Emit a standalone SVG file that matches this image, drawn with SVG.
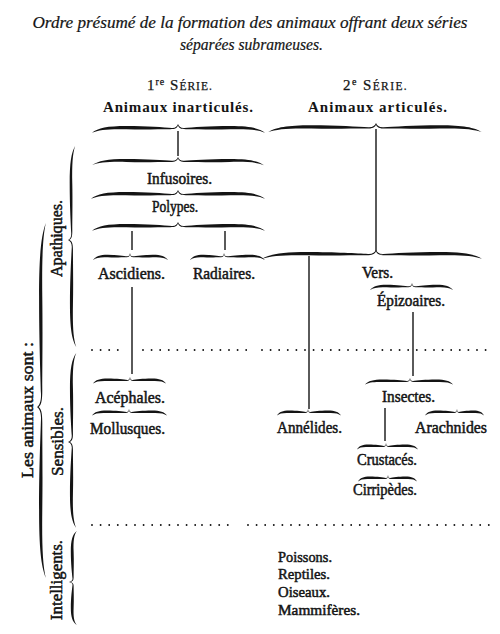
<svg xmlns="http://www.w3.org/2000/svg" xmlns:xlink="http://www.w3.org/1999/xlink" width="500" height="634" viewBox="0 0 500 634">
<style>
text{font-family:"Liberation Serif","DejaVu Serif",serif;fill:#141414}
.ti{font-size:16px;font-style:italic;stroke:#141414;stroke-width:0.2}
.hd{font-size:15px;font-weight:bold}
.sr{font-size:15px;stroke:#141414;stroke-width:0.25}
.lb{font-size:16px;stroke:#141414;stroke-width:0.5}
.sm{font-size:15px;stroke:#141414;stroke-width:0.5}
.br{fill:#141414}
.ln{stroke:#141414;stroke-width:1.4;fill:none}
.dt{stroke:#141414;stroke-width:1.9;stroke-linecap:round;stroke-dasharray:0 8.6;fill:none}
</style>
<defs>
<path id="hb" d="M-100,11 C-93,5 -82,2.6 -60,2.6 C-36,2.6 -16,4.4 -7,5 C-3,5.3 -1,3 0,0 L0,2 C-1,5 -3,6.6 -9,6.6 C-22,6.6 -40,7.2 -60,6.6 C-80,6.1 -92,7 -100,11 Z"/>
</defs>
<rect width="500" height="634" fill="#fff"/>

<g id="title">
<text class="ti" x="250" y="28" text-anchor="middle" textLength="435" lengthAdjust="spacingAndGlyphs">Ordre présumé de la formation des animaux offrant deux séries</text>
<text class="ti" x="251.5" y="50" text-anchor="middle" textLength="143" lengthAdjust="spacingAndGlyphs">séparées subrameuses.</text>
</g>

<g id="serie1">
<text class="sr" x="147" y="90" letter-spacing="1">1<tspan font-size="10" dy="-5">re</tspan><tspan dy="5"> S</tspan><tspan font-size="11.5">ÉRIE.</tspan></text>
<text class="hd" x="178" y="112" text-anchor="middle" textLength="150" lengthAdjust="spacing">Animaux inarticulés.</text>
<use href="#hb" class="br" transform="translate(178,124) scale(0.86,0.8)"/>
<use href="#hb" class="br" transform="translate(178,124) scale(-0.87,0.8)"/>
</g>

<g id="serie2">
<text class="sr" x="343" y="90" letter-spacing="1.4">2<tspan font-size="10" dy="-5">e</tspan><tspan dy="5"> S</tspan><tspan font-size="11.5">ÉRIE.</tspan></text>
<text class="hd" x="377.5" y="112" text-anchor="middle" textLength="139" lengthAdjust="spacing">Animaux articulés.</text>
<use href="#hb" class="br" transform="translate(376,123) scale(1.08,0.85)"/>
<use href="#hb" class="br" transform="translate(376,123) scale(-1.06,0.85)"/>
</g>

<g id="infusoires">
<use href="#hb" class="br" transform="translate(178,157) scale(0.86,0.75)"/>
<use href="#hb" class="br" transform="translate(178,157) scale(-0.86,0.75)"/>
<text class="lb" x="147" y="184" textLength="65" lengthAdjust="spacingAndGlyphs">Infusoires.</text>
</g>

<g id="polypes">
<use href="#hb" class="br" transform="translate(178,190) scale(0.87,0.8)"/>
<use href="#hb" class="br" transform="translate(178,190) scale(-0.87,0.8)"/>
<text class="lb" x="152" y="212" textLength="46" lengthAdjust="spacingAndGlyphs">Polypes.</text>
<use href="#hb" class="br" transform="translate(178,222) scale(0.86,0.8)"/>
<use href="#hb" class="br" transform="translate(178,222) scale(-0.87,0.8)"/>
</g>

<g id="ascidiens">
<use href="#hb" class="br" transform="translate(130,253) scale(0.37,0.65)"/>
<use href="#hb" class="br" transform="translate(130,253) scale(-0.38,0.65)"/>
<text class="lb" x="98" y="279" textLength="67" lengthAdjust="spacingAndGlyphs">Ascidiens.</text>
</g>

<g id="radiaires">
<use href="#hb" class="br" transform="translate(224,253) scale(0.34,0.65)"/>
<use href="#hb" class="br" transform="translate(224,253) scale(-0.41,0.65)"/>
<text class="lb" x="193" y="279" textLength="62" lengthAdjust="spacingAndGlyphs">Radiaires.</text>
</g>

<g id="vers">
<use href="#hb" class="br" transform="translate(376,250) scale(1.14,0.8)"/>
<use href="#hb" class="br" transform="translate(376,250) scale(-1.06,0.8)"/>
<text class="lb" x="362" y="278" textLength="31" lengthAdjust="spacingAndGlyphs">Vers.</text>
</g>

<g id="epizoaires">
<use href="#hb" class="br" transform="translate(412,283) scale(0.42,0.65)"/>
<use href="#hb" class="br" transform="translate(412,283) scale(-0.41,0.65)"/>
<text class="lb" x="377" y="306" textLength="68" lengthAdjust="spacingAndGlyphs">Épizoaires.</text>
</g>

<g id="acephales">
<use href="#hb" class="br" transform="translate(130,377) scale(0.37,0.6)"/>
<use href="#hb" class="br" transform="translate(130,377) scale(-0.36,0.6)"/>
<text class="lb" x="95" y="403" textLength="70" lengthAdjust="spacingAndGlyphs">Acéphales.</text>
</g>

<g id="mollusques">
<use href="#hb" class="br" transform="translate(129,409) scale(0.37,0.6)"/>
<use href="#hb" class="br" transform="translate(129,409) scale(-0.38,0.6)"/>
<text class="lb" x="90" y="434" textLength="75" lengthAdjust="spacingAndGlyphs">Mollusques.</text>
</g>

<g id="insectes">
<use href="#hb" class="br" transform="translate(410,378) scale(0.45,0.6)"/>
<use href="#hb" class="br" transform="translate(410,378) scale(-0.43,0.6)"/>
<text class="lb" x="382" y="402" textLength="53" lengthAdjust="spacingAndGlyphs">Insectes.</text>
</g>

<g id="annelides">
<use href="#hb" class="br" transform="translate(308,409) scale(0.31,0.6)"/>
<use href="#hb" class="br" transform="translate(308,409) scale(-0.33,0.6)"/>
<text class="lb" x="277" y="433" textLength="65" lengthAdjust="spacingAndGlyphs">Annélides.</text>
</g>

<g id="arachnides">
<use href="#hb" class="br" transform="translate(457,409) scale(0.32,0.6)"/>
<use href="#hb" class="br" transform="translate(457,409) scale(-0.27,0.6)"/>
<text class="lb" x="415" y="433" textLength="72" lengthAdjust="spacingAndGlyphs">Arachnides</text>
</g>

<g id="crustaces">
<use href="#hb" class="br" transform="translate(386,443) scale(0.29,0.6)"/>
<use href="#hb" class="br" transform="translate(386,443) scale(-0.32,0.6)"/>
<text class="lb" x="357" y="465" textLength="60" lengthAdjust="spacingAndGlyphs">Crustacés.</text>
</g>

<g id="cirripedes">
<use href="#hb" class="br" transform="translate(388,475) scale(0.3,0.6)"/>
<use href="#hb" class="br" transform="translate(388,475) scale(-0.29,0.6)"/>
<text class="lb" x="353" y="495" textLength="64" lengthAdjust="spacingAndGlyphs">Cirripèdes.</text>
</g>

<g id="vertebres">
<text class="sm" x="278" y="562" textLength="54" lengthAdjust="spacingAndGlyphs">Poissons.</text>
<text class="sm" x="278" y="579" textLength="52" lengthAdjust="spacingAndGlyphs">Reptiles.</text>
<text class="sm" x="278" y="597" textLength="52" lengthAdjust="spacingAndGlyphs">Oiseaux.</text>
<text class="sm" x="278" y="615" textLength="82" lengthAdjust="spacingAndGlyphs">Mammifères.</text>
</g>

<g id="les-animaux">
<use href="#hb" class="br" transform="translate(37,407) rotate(-90) scale(-1.84,0.8)"/>
<use href="#hb" class="br" transform="translate(37,407) rotate(-90) scale(1.71,0.8)"/>
<text class="lb" transform="translate(33,478) rotate(-90)" textLength="136" lengthAdjust="spacingAndGlyphs">Les animaux sont :</text>
</g>

<g id="apathiques">
<use href="#hb" class="br" transform="translate(68,240) rotate(-90) scale(-0.94,0.65)"/>
<use href="#hb" class="br" transform="translate(68,240) rotate(-90) scale(1.07,0.75)"/>
<text class="lb" transform="translate(62,277) rotate(-90)" textLength="77" lengthAdjust="spacingAndGlyphs">Apathiques.</text>
</g>

<g id="sensibles">
<use href="#hb" class="br" transform="translate(68,442) rotate(-90) scale(-0.89,0.75)"/>
<use href="#hb" class="br" transform="translate(68,442) rotate(-90) scale(0.86,0.75)"/>
<text class="lb" transform="translate(63,476) rotate(-90)" textLength="69" lengthAdjust="spacingAndGlyphs">Sensibles.</text>
</g>

<g id="intelligents">
<use href="#hb" class="br" transform="translate(69,582) rotate(-90) scale(-0.51,0.7)"/>
<use href="#hb" class="br" transform="translate(69,582) rotate(-90) scale(0.43,0.7)"/>
<text class="lb" transform="translate(62,620) rotate(-90)" textLength="80" lengthAdjust="spacingAndGlyphs">Intelligents.</text>
</g>

<g id="connectors">
<line class="ln" x1="178" y1="131" x2="178" y2="156"/>
<line class="ln" x1="132" y1="231" x2="132" y2="250"/>
<line class="ln" x1="225" y1="231" x2="225" y2="250"/>
<line class="ln" x1="376" y1="129" x2="376" y2="251"/>
<line class="ln" x1="309" y1="256" x2="309" y2="409"/>
<line class="ln" x1="413" y1="312" x2="413" y2="376"/>
<line class="ln" x1="132" y1="287" x2="132" y2="374"/>
<line class="ln" x1="385" y1="408" x2="385" y2="441"/>
<line class="dt" x1="92" y1="350" x2="125" y2="350"/>
<line class="dt" x1="143" y1="350" x2="249" y2="350"/>
<line class="dt" x1="262" y1="350" x2="489" y2="350"/>
<line class="dt" x1="92" y1="525" x2="197" y2="525"/>
<line class="dt" x1="202" y1="525" x2="229" y2="525"/>
<line class="dt" x1="248" y1="525" x2="490" y2="525"/>
</g>
</svg>
